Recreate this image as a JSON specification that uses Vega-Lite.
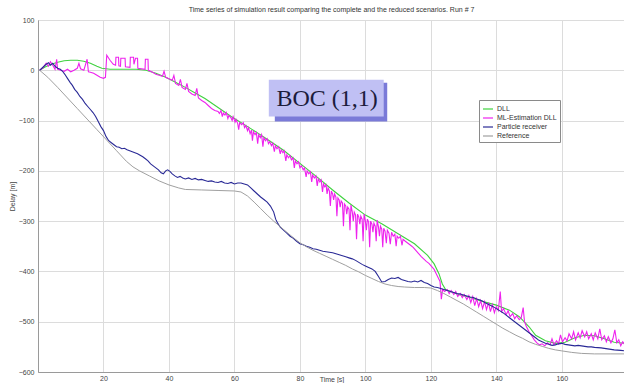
{
  "$schema": "https://vega.github.io/schema/vega-lite/v6.json",
  "width": 587,
  "height": 352,
  "autosize": {"type": "none"},
  "padding": {"left": 38, "top": 20, "right": 0, "bottom": 11},
  "background": "white",
  "title": {
    "text": "Time series of simulation result comparing the complete and the reduced scenarios. Run # 7",
    "font": "Liberation Sans",
    "fontSize": 7,
    "fontWeight": "normal",
    "color": "#333333",
    "anchor": "middle",
    "offset": 3
  },
  "config": {
    "view": {"stroke": "#a8a8a8", "strokeWidth": 1},
    "axis": {
      "labelFont": "Liberation Sans",
      "titleFont": "Liberation Sans",
      "labelFontSize": 7,
      "titleFontSize": 7,
      "titleFontWeight": "normal",
      "labelColor": "#444444",
      "titleColor": "#444444",
      "grid": true,
      "gridColor": "#dcdcdc",
      "gridWidth": 1,
      "domainColor": "#9a9a9a",
      "ticks": false
    }
  },
  "datasets": {
    "runs": [
      {"s": "DLL", "t": 0.5, "d": 0}, {"s": "DLL", "t": 2, "d": 6}, {"s": "DLL", "t": 4, "d": 12}, {"s": "DLL", "t": 6, "d": 16},
      {"s": "DLL", "t": 8, "d": 19}, {"s": "DLL", "t": 10, "d": 20}, {"s": "DLL", "t": 12, "d": 20}, {"s": "DLL", "t": 14, "d": 18},
      {"s": "DLL", "t": 16, "d": 14}, {"s": "DLL", "t": 18, "d": 8}, {"s": "DLL", "t": 19.5, "d": 4}, {"s": "DLL", "t": 22, "d": 2},
      {"s": "DLL", "t": 26, "d": 2}, {"s": "DLL", "t": 30, "d": 2}, {"s": "DLL", "t": 33, "d": 0}, {"s": "DLL", "t": 36, "d": -6},
      {"s": "DLL", "t": 39, "d": -14}, {"s": "DLL", "t": 42, "d": -24}, {"s": "DLL", "t": 45, "d": -34}, {"s": "DLL", "t": 48, "d": -45},
      {"s": "DLL", "t": 51, "d": -56}, {"s": "DLL", "t": 55, "d": -74}, {"s": "DLL", "t": 59, "d": -92}, {"s": "DLL", "t": 65, "d": -116},
      {"s": "DLL", "t": 70, "d": -137}, {"s": "DLL", "t": 75, "d": -159}, {"s": "DLL", "t": 80, "d": -185}, {"s": "DLL", "t": 85, "d": -211},
      {"s": "DLL", "t": 90, "d": -238}, {"s": "DLL", "t": 95, "d": -264}, {"s": "DLL", "t": 100, "d": -288}, {"s": "DLL", "t": 105, "d": -305},
      {"s": "DLL", "t": 110, "d": -325}, {"s": "DLL", "t": 115, "d": -345}, {"s": "DLL", "t": 119, "d": -368}, {"s": "DLL", "t": 121, "d": -385},
      {"s": "DLL", "t": 122.5, "d": -405}, {"s": "DLL", "t": 123.5, "d": -425}, {"s": "DLL", "t": 124.5, "d": -436}, {"s": "DLL", "t": 128, "d": -445},
      {"s": "DLL", "t": 132, "d": -452}, {"s": "DLL", "t": 136, "d": -460}, {"s": "DLL", "t": 140, "d": -467}, {"s": "DLL", "t": 144, "d": -477},
      {"s": "DLL", "t": 147, "d": -490}, {"s": "DLL", "t": 150, "d": -510}, {"s": "DLL", "t": 152, "d": -527}, {"s": "DLL", "t": 155, "d": -538},
      {"s": "DLL", "t": 158, "d": -543}, {"s": "DLL", "t": 161, "d": -541}, {"s": "DLL", "t": 164, "d": -532}, {"s": "DLL", "t": 167, "d": -527},
      {"s": "DLL", "t": 170, "d": -528}, {"s": "DLL", "t": 173, "d": -534}, {"s": "DLL", "t": 176, "d": -541}, {"s": "DLL", "t": 179.3, "d": -543},

      {"s": "ML-Estimation DLL", "t": 0.5, "d": 0}, {"s": "ML-Estimation DLL", "t": 1.5, "d": 5}, {"s": "ML-Estimation DLL", "t": 2.5, "d": 14},
      {"s": "ML-Estimation DLL", "t": 3.2, "d": 8}, {"s": "ML-Estimation DLL", "t": 3.8, "d": 17}, {"s": "ML-Estimation DLL", "t": 4.5, "d": 10},
      {"s": "ML-Estimation DLL", "t": 5.2, "d": 2}, {"s": "ML-Estimation DLL", "t": 5.7, "d": 22}, {"s": "ML-Estimation DLL", "t": 6.0, "d": 2},
      {"s": "ML-Estimation DLL", "t": 7, "d": 0}, {"s": "ML-Estimation DLL", "t": 8, "d": -2}, {"s": "ML-Estimation DLL", "t": 9, "d": 2},
      {"s": "ML-Estimation DLL", "t": 10, "d": -3}, {"s": "ML-Estimation DLL", "t": 11, "d": 0}, {"s": "ML-Estimation DLL", "t": 12, "d": 4},
      {"s": "ML-Estimation DLL", "t": 12.5, "d": 14}, {"s": "ML-Estimation DLL", "t": 13, "d": 3}, {"s": "ML-Estimation DLL", "t": 14, "d": 0},
      {"s": "ML-Estimation DLL", "t": 15, "d": 22}, {"s": "ML-Estimation DLL", "t": 15.4, "d": -3}, {"s": "ML-Estimation DLL", "t": 16, "d": -4},
      {"s": "ML-Estimation DLL", "t": 17, "d": -6}, {"s": "ML-Estimation DLL", "t": 18, "d": -10}, {"s": "ML-Estimation DLL", "t": 19, "d": -14},
      {"s": "ML-Estimation DLL", "t": 20, "d": -16}, {"s": "ML-Estimation DLL", "t": 20.6, "d": -14}, {"s": "ML-Estimation DLL", "t": 21, "d": 30},
      {"s": "ML-Estimation DLL", "t": 22, "d": 20}, {"s": "ML-Estimation DLL", "t": 23, "d": 12}, {"s": "ML-Estimation DLL", "t": 23.7, "d": 10},
      {"s": "ML-Estimation DLL", "t": 23.8, "d": 26}, {"s": "ML-Estimation DLL", "t": 24.6, "d": 26}, {"s": "ML-Estimation DLL", "t": 24.7, "d": 9},
      {"s": "ML-Estimation DLL", "t": 25.2, "d": 8}, {"s": "ML-Estimation DLL", "t": 25.3, "d": 24}, {"s": "ML-Estimation DLL", "t": 26.6, "d": 24},
      {"s": "ML-Estimation DLL", "t": 26.7, "d": 7}, {"s": "ML-Estimation DLL", "t": 28.1, "d": 6}, {"s": "ML-Estimation DLL", "t": 28.2, "d": 26},
      {"s": "ML-Estimation DLL", "t": 29.2, "d": 26}, {"s": "ML-Estimation DLL", "t": 29.3, "d": 12}, {"s": "ML-Estimation DLL", "t": 29.8, "d": 24},
      {"s": "ML-Estimation DLL", "t": 30.4, "d": 24}, {"s": "ML-Estimation DLL", "t": 30.5, "d": 4}, {"s": "ML-Estimation DLL", "t": 32.7, "d": 2},
      {"s": "ML-Estimation DLL", "t": 32.8, "d": 22}, {"s": "ML-Estimation DLL", "t": 33.6, "d": 22}, {"s": "ML-Estimation DLL", "t": 33.7, "d": 0},
      {"s": "ML-Estimation DLL", "t": 35, "d": -4}, {"s": "ML-Estimation DLL", "t": 36, "d": -8}, {"s": "ML-Estimation DLL", "t": 37, "d": -10},
      {"s": "ML-Estimation DLL", "t": 38, "d": -12}, {"s": "ML-Estimation DLL", "t": 38.5, "d": -2}, {"s": "ML-Estimation DLL", "t": 39, "d": -14},
      {"s": "ML-Estimation DLL", "t": 40, "d": -17}, {"s": "ML-Estimation DLL", "t": 41, "d": -20}, {"s": "ML-Estimation DLL", "t": 41.5, "d": -10},
      {"s": "ML-Estimation DLL", "t": 42, "d": -26}, {"s": "ML-Estimation DLL", "t": 43, "d": -30}, {"s": "ML-Estimation DLL", "t": 43.5, "d": -18},
      {"s": "ML-Estimation DLL", "t": 44, "d": -34}, {"s": "ML-Estimation DLL", "t": 45, "d": -38}, {"s": "ML-Estimation DLL", "t": 45.5, "d": -26},
      {"s": "ML-Estimation DLL", "t": 46, "d": -42}, {"s": "ML-Estimation DLL", "t": 47, "d": -47}, {"s": "ML-Estimation DLL", "t": 48, "d": -50},
      {"s": "ML-Estimation DLL", "t": 48.5, "d": -36}, {"s": "ML-Estimation DLL", "t": 49, "d": -55}, {"s": "ML-Estimation DLL", "t": 50, "d": -60},
      {"s": "ML-Estimation DLL", "t": 51, "d": -64}, {"s": "ML-Estimation DLL", "t": 52, "d": -70}, {"s": "ML-Estimation DLL", "t": 53, "d": -76},
      {"s": "ML-Estimation DLL", "t": 54, "d": -80}, {"s": "ML-Estimation DLL", "t": 55, "d": -82}, {"s": "ML-Estimation DLL", "t": 55.4, "d": -86},
      {"s": "ML-Estimation DLL", "t": 55.9, "d": -80}, {"s": "ML-Estimation DLL", "t": 56.3, "d": -92}, {"s": "ML-Estimation DLL", "t": 56.6, "d": -85},
      {"s": "ML-Estimation DLL", "t": 57.1, "d": -89}, {"s": "ML-Estimation DLL", "t": 57.5, "d": -84}, {"s": "ML-Estimation DLL", "t": 58, "d": -96},
      {"s": "ML-Estimation DLL", "t": 58.3, "d": -90}, {"s": "ML-Estimation DLL", "t": 58.9, "d": -94}, {"s": "ML-Estimation DLL", "t": 59.3, "d": -100},
      {"s": "ML-Estimation DLL", "t": 59.6, "d": -92}, {"s": "ML-Estimation DLL", "t": 60.2, "d": -103}, {"s": "ML-Estimation DLL", "t": 60.5, "d": -98},
      {"s": "ML-Estimation DLL", "t": 61, "d": -106}, {"s": "ML-Estimation DLL", "t": 61.3, "d": -118}, {"s": "ML-Estimation DLL", "t": 61.6, "d": -104},
      {"s": "ML-Estimation DLL", "t": 62.2, "d": -108}, {"s": "ML-Estimation DLL", "t": 62.7, "d": -104}, {"s": "ML-Estimation DLL", "t": 63.1, "d": -114},
      {"s": "ML-Estimation DLL", "t": 63.5, "d": -110}, {"s": "ML-Estimation DLL", "t": 64, "d": -120}, {"s": "ML-Estimation DLL", "t": 64.3, "d": -114},
      {"s": "ML-Estimation DLL", "t": 64.8, "d": -126}, {"s": "ML-Estimation DLL", "t": 65.2, "d": -119}, {"s": "ML-Estimation DLL", "t": 65.5, "d": -140},
      {"s": "ML-Estimation DLL", "t": 65.8, "d": -122}, {"s": "ML-Estimation DLL", "t": 66.3, "d": -128}, {"s": "ML-Estimation DLL", "t": 66.7, "d": -124},
      {"s": "ML-Estimation DLL", "t": 67.1, "d": -146}, {"s": "ML-Estimation DLL", "t": 67.4, "d": -128}, {"s": "ML-Estimation DLL", "t": 67.9, "d": -134},
      {"s": "ML-Estimation DLL", "t": 68.3, "d": -128}, {"s": "ML-Estimation DLL", "t": 68.7, "d": -152}, {"s": "ML-Estimation DLL", "t": 69, "d": -134},
      {"s": "ML-Estimation DLL", "t": 69.5, "d": -140}, {"s": "ML-Estimation DLL", "t": 70, "d": -136}, {"s": "ML-Estimation DLL", "t": 70.4, "d": -146},
      {"s": "ML-Estimation DLL", "t": 70.8, "d": -142}, {"s": "ML-Estimation DLL", "t": 71.3, "d": -150}, {"s": "ML-Estimation DLL", "t": 71.7, "d": -145},
      {"s": "ML-Estimation DLL", "t": 72.2, "d": -162}, {"s": "ML-Estimation DLL", "t": 72.5, "d": -150}, {"s": "ML-Estimation DLL", "t": 73, "d": -156},
      {"s": "ML-Estimation DLL", "t": 73.5, "d": -152}, {"s": "ML-Estimation DLL", "t": 74, "d": -166}, {"s": "ML-Estimation DLL", "t": 74.3, "d": -158},
      {"s": "ML-Estimation DLL", "t": 74.8, "d": -164}, {"s": "ML-Estimation DLL", "t": 75.2, "d": -160}, {"s": "ML-Estimation DLL", "t": 75.7, "d": -180},
      {"s": "ML-Estimation DLL", "t": 76, "d": -168}, {"s": "ML-Estimation DLL", "t": 76.5, "d": -174}, {"s": "ML-Estimation DLL", "t": 77, "d": -170},
      {"s": "ML-Estimation DLL", "t": 77.4, "d": -178}, {"s": "ML-Estimation DLL", "t": 77.9, "d": -174}, {"s": "ML-Estimation DLL", "t": 78.3, "d": -194},
      {"s": "ML-Estimation DLL", "t": 78.6, "d": -180}, {"s": "ML-Estimation DLL", "t": 79.1, "d": -186}, {"s": "ML-Estimation DLL", "t": 79.6, "d": -182},
      {"s": "ML-Estimation DLL", "t": 80, "d": -194}, {"s": "ML-Estimation DLL", "t": 80.5, "d": -190}, {"s": "ML-Estimation DLL", "t": 81, "d": -198},
      {"s": "ML-Estimation DLL", "t": 81.4, "d": -194}, {"s": "ML-Estimation DLL", "t": 81.9, "d": -212}, {"s": "ML-Estimation DLL", "t": 82.2, "d": -200},
      {"s": "ML-Estimation DLL", "t": 82.7, "d": -206}, {"s": "ML-Estimation DLL", "t": 83.2, "d": -202}, {"s": "ML-Estimation DLL", "t": 83.6, "d": -222},
      {"s": "ML-Estimation DLL", "t": 83.9, "d": -208}, {"s": "ML-Estimation DLL", "t": 84.4, "d": -214}, {"s": "ML-Estimation DLL", "t": 84.9, "d": -210},
      {"s": "ML-Estimation DLL", "t": 85.3, "d": -230}, {"s": "ML-Estimation DLL", "t": 85.6, "d": -216}, {"s": "ML-Estimation DLL", "t": 86.1, "d": -222},
      {"s": "ML-Estimation DLL", "t": 86.5, "d": -218}, {"s": "ML-Estimation DLL", "t": 86.9, "d": -242}, {"s": "ML-Estimation DLL", "t": 87.2, "d": -226},
      {"s": "ML-Estimation DLL", "t": 87.6, "d": -232}, {"s": "ML-Estimation DLL", "t": 88, "d": -228}, {"s": "ML-Estimation DLL", "t": 88.3, "d": -246},
      {"s": "ML-Estimation DLL", "t": 88.6, "d": -234}, {"s": "ML-Estimation DLL", "t": 89, "d": -240}, {"s": "ML-Estimation DLL", "t": 89.3, "d": -270},
      {"s": "ML-Estimation DLL", "t": 89.6, "d": -240}, {"s": "ML-Estimation DLL", "t": 90, "d": -246}, {"s": "ML-Estimation DLL", "t": 90.3, "d": -258},
      {"s": "ML-Estimation DLL", "t": 90.6, "d": -246}, {"s": "ML-Estimation DLL", "t": 91, "d": -252}, {"s": "ML-Estimation DLL", "t": 91.3, "d": -290},
      {"s": "ML-Estimation DLL", "t": 91.6, "d": -254}, {"s": "ML-Estimation DLL", "t": 92, "d": -258}, {"s": "ML-Estimation DLL", "t": 92.3, "d": -272},
      {"s": "ML-Estimation DLL", "t": 92.6, "d": -260}, {"s": "ML-Estimation DLL", "t": 93, "d": -264}, {"s": "ML-Estimation DLL", "t": 93.3, "d": -310},
      {"s": "ML-Estimation DLL", "t": 93.6, "d": -266}, {"s": "ML-Estimation DLL", "t": 94, "d": -270}, {"s": "ML-Estimation DLL", "t": 94.3, "d": -286},
      {"s": "ML-Estimation DLL", "t": 94.6, "d": -272}, {"s": "ML-Estimation DLL", "t": 95, "d": -276}, {"s": "ML-Estimation DLL", "t": 95.3, "d": -318},
      {"s": "ML-Estimation DLL", "t": 95.6, "d": -268}, {"s": "ML-Estimation DLL", "t": 96, "d": -282}, {"s": "ML-Estimation DLL", "t": 96.3, "d": -300},
      {"s": "ML-Estimation DLL", "t": 96.6, "d": -282}, {"s": "ML-Estimation DLL", "t": 97, "d": -288}, {"s": "ML-Estimation DLL", "t": 97.3, "d": -336},
      {"s": "ML-Estimation DLL", "t": 97.6, "d": -286}, {"s": "ML-Estimation DLL", "t": 98, "d": -292}, {"s": "ML-Estimation DLL", "t": 98.3, "d": -306},
      {"s": "ML-Estimation DLL", "t": 98.6, "d": -290}, {"s": "ML-Estimation DLL", "t": 99, "d": -296}, {"s": "ML-Estimation DLL", "t": 99.3, "d": -340},
      {"s": "ML-Estimation DLL", "t": 99.6, "d": -286}, {"s": "ML-Estimation DLL", "t": 100, "d": -300}, {"s": "ML-Estimation DLL", "t": 100.3, "d": -318},
      {"s": "ML-Estimation DLL", "t": 100.6, "d": -296}, {"s": "ML-Estimation DLL", "t": 101, "d": -302}, {"s": "ML-Estimation DLL", "t": 101.3, "d": -352},
      {"s": "ML-Estimation DLL", "t": 101.6, "d": -300}, {"s": "ML-Estimation DLL", "t": 102, "d": -306}, {"s": "ML-Estimation DLL", "t": 102.3, "d": -322},
      {"s": "ML-Estimation DLL", "t": 102.6, "d": -304}, {"s": "ML-Estimation DLL", "t": 103, "d": -310}, {"s": "ML-Estimation DLL", "t": 103.3, "d": -340},
      {"s": "ML-Estimation DLL", "t": 103.6, "d": -298}, {"s": "ML-Estimation DLL", "t": 104, "d": -312}, {"s": "ML-Estimation DLL", "t": 104.3, "d": -330},
      {"s": "ML-Estimation DLL", "t": 104.6, "d": -310}, {"s": "ML-Estimation DLL", "t": 105, "d": -316}, {"s": "ML-Estimation DLL", "t": 105.3, "d": -352},
      {"s": "ML-Estimation DLL", "t": 105.6, "d": -314}, {"s": "ML-Estimation DLL", "t": 106, "d": -320}, {"s": "ML-Estimation DLL", "t": 106.4, "d": -344},
      {"s": "ML-Estimation DLL", "t": 106.7, "d": -318}, {"s": "ML-Estimation DLL", "t": 107.2, "d": -324}, {"s": "ML-Estimation DLL", "t": 107.6, "d": -346},
      {"s": "ML-Estimation DLL", "t": 108, "d": -322}, {"s": "ML-Estimation DLL", "t": 108.5, "d": -330}, {"s": "ML-Estimation DLL", "t": 109, "d": -326},
      {"s": "ML-Estimation DLL", "t": 109.4, "d": -350}, {"s": "ML-Estimation DLL", "t": 109.7, "d": -330}, {"s": "ML-Estimation DLL", "t": 110.2, "d": -334},
      {"s": "ML-Estimation DLL", "t": 110.7, "d": -330}, {"s": "ML-Estimation DLL", "t": 111.2, "d": -348}, {"s": "ML-Estimation DLL", "t": 111.5, "d": -336},
      {"s": "ML-Estimation DLL", "t": 112.2, "d": -340}, {"s": "ML-Estimation DLL", "t": 113, "d": -344}, {"s": "ML-Estimation DLL", "t": 113.8, "d": -348},
      {"s": "ML-Estimation DLL", "t": 114.6, "d": -352}, {"s": "ML-Estimation DLL", "t": 115.4, "d": -358}, {"s": "ML-Estimation DLL", "t": 116.2, "d": -364},
      {"s": "ML-Estimation DLL", "t": 117, "d": -370}, {"s": "ML-Estimation DLL", "t": 117.8, "d": -375}, {"s": "ML-Estimation DLL", "t": 118.6, "d": -380},
      {"s": "ML-Estimation DLL", "t": 119.4, "d": -384}, {"s": "ML-Estimation DLL", "t": 120.2, "d": -390}, {"s": "ML-Estimation DLL", "t": 121, "d": -396},
      {"s": "ML-Estimation DLL", "t": 121.6, "d": -404}, {"s": "ML-Estimation DLL", "t": 122.2, "d": -412}, {"s": "ML-Estimation DLL", "t": 122.8, "d": -420},
      {"s": "ML-Estimation DLL", "t": 123.2, "d": -455}, {"s": "ML-Estimation DLL", "t": 123.6, "d": -436}, {"s": "ML-Estimation DLL", "t": 124.2, "d": -440},
      {"s": "ML-Estimation DLL", "t": 125, "d": -436}, {"s": "ML-Estimation DLL", "t": 125.6, "d": -444}, {"s": "ML-Estimation DLL", "t": 126.2, "d": -438},
      {"s": "ML-Estimation DLL", "t": 127, "d": -446}, {"s": "ML-Estimation DLL", "t": 127.6, "d": -440}, {"s": "ML-Estimation DLL", "t": 128.2, "d": -450},
      {"s": "ML-Estimation DLL", "t": 129, "d": -444}, {"s": "ML-Estimation DLL", "t": 129.6, "d": -452}, {"s": "ML-Estimation DLL", "t": 130.2, "d": -446},
      {"s": "ML-Estimation DLL", "t": 131, "d": -456}, {"s": "ML-Estimation DLL", "t": 131.6, "d": -448}, {"s": "ML-Estimation DLL", "t": 132.2, "d": -462},
      {"s": "ML-Estimation DLL", "t": 132.8, "d": -450}, {"s": "ML-Estimation DLL", "t": 133.4, "d": -468}, {"s": "ML-Estimation DLL", "t": 134, "d": -454},
      {"s": "ML-Estimation DLL", "t": 134.6, "d": -470}, {"s": "ML-Estimation DLL", "t": 135.2, "d": -458}, {"s": "ML-Estimation DLL", "t": 135.8, "d": -474},
      {"s": "ML-Estimation DLL", "t": 136.4, "d": -460}, {"s": "ML-Estimation DLL", "t": 137, "d": -476}, {"s": "ML-Estimation DLL", "t": 137.6, "d": -462},
      {"s": "ML-Estimation DLL", "t": 138.2, "d": -480}, {"s": "ML-Estimation DLL", "t": 138.8, "d": -466}, {"s": "ML-Estimation DLL", "t": 139.4, "d": -482},
      {"s": "ML-Estimation DLL", "t": 140, "d": -470}, {"s": "ML-Estimation DLL", "t": 140.6, "d": -478}, {"s": "ML-Estimation DLL", "t": 141.2, "d": -440},
      {"s": "ML-Estimation DLL", "t": 141.6, "d": -480}, {"s": "ML-Estimation DLL", "t": 142.2, "d": -474}, {"s": "ML-Estimation DLL", "t": 143, "d": -486},
      {"s": "ML-Estimation DLL", "t": 143.6, "d": -478}, {"s": "ML-Estimation DLL", "t": 144.2, "d": -490}, {"s": "ML-Estimation DLL", "t": 145, "d": -484},
      {"s": "ML-Estimation DLL", "t": 145.6, "d": -494}, {"s": "ML-Estimation DLL", "t": 146.2, "d": -488}, {"s": "ML-Estimation DLL", "t": 147, "d": -496},
      {"s": "ML-Estimation DLL", "t": 147.6, "d": -492}, {"s": "ML-Estimation DLL", "t": 148.2, "d": -472}, {"s": "ML-Estimation DLL", "t": 148.6, "d": -500},
      {"s": "ML-Estimation DLL", "t": 149.2, "d": -510}, {"s": "ML-Estimation DLL", "t": 150, "d": -520}, {"s": "ML-Estimation DLL", "t": 150.8, "d": -528},
      {"s": "ML-Estimation DLL", "t": 151.6, "d": -536}, {"s": "ML-Estimation DLL", "t": 152.4, "d": -542}, {"s": "ML-Estimation DLL", "t": 153.2, "d": -546},
      {"s": "ML-Estimation DLL", "t": 154, "d": -544}, {"s": "ML-Estimation DLL", "t": 154.8, "d": -548}, {"s": "ML-Estimation DLL", "t": 155.6, "d": -542},
      {"s": "ML-Estimation DLL", "t": 156.4, "d": -546}, {"s": "ML-Estimation DLL", "t": 157, "d": -534}, {"s": "ML-Estimation DLL", "t": 157.6, "d": -546},
      {"s": "ML-Estimation DLL", "t": 158.4, "d": -538}, {"s": "ML-Estimation DLL", "t": 159, "d": -544}, {"s": "ML-Estimation DLL", "t": 159.6, "d": -526},
      {"s": "ML-Estimation DLL", "t": 160.2, "d": -540}, {"s": "ML-Estimation DLL", "t": 161, "d": -532}, {"s": "ML-Estimation DLL", "t": 161.6, "d": -538},
      {"s": "ML-Estimation DLL", "t": 162.2, "d": -524}, {"s": "ML-Estimation DLL", "t": 163, "d": -534}, {"s": "ML-Estimation DLL", "t": 163.6, "d": -520},
      {"s": "ML-Estimation DLL", "t": 164.2, "d": -536}, {"s": "ML-Estimation DLL", "t": 165, "d": -522}, {"s": "ML-Estimation DLL", "t": 165.6, "d": -532},
      {"s": "ML-Estimation DLL", "t": 166.2, "d": -518}, {"s": "ML-Estimation DLL", "t": 167, "d": -530}, {"s": "ML-Estimation DLL", "t": 167.6, "d": -520},
      {"s": "ML-Estimation DLL", "t": 168.2, "d": -534}, {"s": "ML-Estimation DLL", "t": 169, "d": -524}, {"s": "ML-Estimation DLL", "t": 169.6, "d": -536},
      {"s": "ML-Estimation DLL", "t": 170.2, "d": -522}, {"s": "ML-Estimation DLL", "t": 171, "d": -534}, {"s": "ML-Estimation DLL", "t": 171.6, "d": -514},
      {"s": "ML-Estimation DLL", "t": 172.2, "d": -536}, {"s": "ML-Estimation DLL", "t": 173, "d": -528}, {"s": "ML-Estimation DLL", "t": 173.6, "d": -540},
      {"s": "ML-Estimation DLL", "t": 174.2, "d": -530}, {"s": "ML-Estimation DLL", "t": 175, "d": -542}, {"s": "ML-Estimation DLL", "t": 175.6, "d": -534},
      {"s": "ML-Estimation DLL", "t": 176.2, "d": -516}, {"s": "ML-Estimation DLL", "t": 176.8, "d": -542}, {"s": "ML-Estimation DLL", "t": 177.4, "d": -536},
      {"s": "ML-Estimation DLL", "t": 178, "d": -548}, {"s": "ML-Estimation DLL", "t": 178.6, "d": -540}, {"s": "ML-Estimation DLL", "t": 179.3, "d": -546},

      {"s": "Particle receiver", "t": 0.5, "d": 0}, {"s": "Particle receiver", "t": 1.5, "d": 6}, {"s": "Particle receiver", "t": 2.5, "d": 12},
      {"s": "Particle receiver", "t": 3.2, "d": 15}, {"s": "Particle receiver", "t": 3.8, "d": 10}, {"s": "Particle receiver", "t": 4.5, "d": 14},
      {"s": "Particle receiver", "t": 5.2, "d": 8}, {"s": "Particle receiver", "t": 6, "d": 4}, {"s": "Particle receiver", "t": 6.8, "d": 2},
      {"s": "Particle receiver", "t": 7.5, "d": -2}, {"s": "Particle receiver", "t": 8.2, "d": -8}, {"s": "Particle receiver", "t": 9, "d": -16},
      {"s": "Particle receiver", "t": 9.8, "d": -24}, {"s": "Particle receiver", "t": 10.5, "d": -30}, {"s": "Particle receiver", "t": 11.2, "d": -38},
      {"s": "Particle receiver", "t": 12, "d": -44}, {"s": "Particle receiver", "t": 12.8, "d": -52}, {"s": "Particle receiver", "t": 13.6, "d": -58},
      {"s": "Particle receiver", "t": 14.4, "d": -66}, {"s": "Particle receiver", "t": 15.2, "d": -72}, {"s": "Particle receiver", "t": 16, "d": -78},
      {"s": "Particle receiver", "t": 16.8, "d": -84}, {"s": "Particle receiver", "t": 17.6, "d": -92}, {"s": "Particle receiver", "t": 18.4, "d": -102},
      {"s": "Particle receiver", "t": 19.2, "d": -112}, {"s": "Particle receiver", "t": 20, "d": -120}, {"s": "Particle receiver", "t": 20.8, "d": -132},
      {"s": "Particle receiver", "t": 21.6, "d": -140}, {"s": "Particle receiver", "t": 22.4, "d": -144}, {"s": "Particle receiver", "t": 23.2, "d": -148},
      {"s": "Particle receiver", "t": 24, "d": -152}, {"s": "Particle receiver", "t": 24.8, "d": -153}, {"s": "Particle receiver", "t": 25.6, "d": -156},
      {"s": "Particle receiver", "t": 26.4, "d": -155}, {"s": "Particle receiver", "t": 27.2, "d": -158}, {"s": "Particle receiver", "t": 28, "d": -160},
      {"s": "Particle receiver", "t": 28.8, "d": -162}, {"s": "Particle receiver", "t": 29.6, "d": -164}, {"s": "Particle receiver", "t": 30.4, "d": -166},
      {"s": "Particle receiver", "t": 31.2, "d": -169}, {"s": "Particle receiver", "t": 32, "d": -172}, {"s": "Particle receiver", "t": 32.8, "d": -176},
      {"s": "Particle receiver", "t": 33.6, "d": -180}, {"s": "Particle receiver", "t": 34.4, "d": -186}, {"s": "Particle receiver", "t": 35.2, "d": -190},
      {"s": "Particle receiver", "t": 36, "d": -194}, {"s": "Particle receiver", "t": 36.8, "d": -198}, {"s": "Particle receiver", "t": 37.6, "d": -204},
      {"s": "Particle receiver", "t": 38.3, "d": -206}, {"s": "Particle receiver", "t": 39, "d": -200}, {"s": "Particle receiver", "t": 39.6, "d": -198},
      {"s": "Particle receiver", "t": 40.3, "d": -201}, {"s": "Particle receiver", "t": 41, "d": -206}, {"s": "Particle receiver", "t": 41.8, "d": -210},
      {"s": "Particle receiver", "t": 42.6, "d": -213}, {"s": "Particle receiver", "t": 43.4, "d": -211}, {"s": "Particle receiver", "t": 44.2, "d": -214},
      {"s": "Particle receiver", "t": 45, "d": -216}, {"s": "Particle receiver", "t": 46, "d": -214}, {"s": "Particle receiver", "t": 47, "d": -217},
      {"s": "Particle receiver", "t": 48, "d": -215}, {"s": "Particle receiver", "t": 49, "d": -218}, {"s": "Particle receiver", "t": 50, "d": -217},
      {"s": "Particle receiver", "t": 51, "d": -219}, {"s": "Particle receiver", "t": 52, "d": -221}, {"s": "Particle receiver", "t": 53, "d": -220},
      {"s": "Particle receiver", "t": 54, "d": -222}, {"s": "Particle receiver", "t": 55, "d": -223}, {"s": "Particle receiver", "t": 56, "d": -221},
      {"s": "Particle receiver", "t": 57, "d": -224}, {"s": "Particle receiver", "t": 58, "d": -225}, {"s": "Particle receiver", "t": 59, "d": -223},
      {"s": "Particle receiver", "t": 60, "d": -226}, {"s": "Particle receiver", "t": 61, "d": -224}, {"s": "Particle receiver", "t": 62, "d": -224},
      {"s": "Particle receiver", "t": 63, "d": -226}, {"s": "Particle receiver", "t": 64, "d": -228}, {"s": "Particle receiver", "t": 65, "d": -234},
      {"s": "Particle receiver", "t": 66, "d": -240}, {"s": "Particle receiver", "t": 67, "d": -246}, {"s": "Particle receiver", "t": 68, "d": -252},
      {"s": "Particle receiver", "t": 69, "d": -257}, {"s": "Particle receiver", "t": 70, "d": -262}, {"s": "Particle receiver", "t": 71, "d": -270},
      {"s": "Particle receiver", "t": 72, "d": -282}, {"s": "Particle receiver", "t": 72.6, "d": -296}, {"s": "Particle receiver", "t": 73.2, "d": -304},
      {"s": "Particle receiver", "t": 74, "d": -312}, {"s": "Particle receiver", "t": 75, "d": -318}, {"s": "Particle receiver", "t": 76, "d": -324},
      {"s": "Particle receiver", "t": 77, "d": -330}, {"s": "Particle receiver", "t": 78, "d": -334}, {"s": "Particle receiver", "t": 79, "d": -340},
      {"s": "Particle receiver", "t": 80, "d": -345}, {"s": "Particle receiver", "t": 81, "d": -347}, {"s": "Particle receiver", "t": 82, "d": -350},
      {"s": "Particle receiver", "t": 83, "d": -352}, {"s": "Particle receiver", "t": 84, "d": -355}, {"s": "Particle receiver", "t": 85, "d": -356},
      {"s": "Particle receiver", "t": 86, "d": -358}, {"s": "Particle receiver", "t": 87, "d": -360}, {"s": "Particle receiver", "t": 88, "d": -361},
      {"s": "Particle receiver", "t": 89, "d": -362}, {"s": "Particle receiver", "t": 90, "d": -363}, {"s": "Particle receiver", "t": 91, "d": -365},
      {"s": "Particle receiver", "t": 92, "d": -367}, {"s": "Particle receiver", "t": 93, "d": -369}, {"s": "Particle receiver", "t": 94, "d": -371},
      {"s": "Particle receiver", "t": 95, "d": -373}, {"s": "Particle receiver", "t": 96, "d": -375}, {"s": "Particle receiver", "t": 97, "d": -378},
      {"s": "Particle receiver", "t": 98, "d": -382}, {"s": "Particle receiver", "t": 99, "d": -386}, {"s": "Particle receiver", "t": 100, "d": -389},
      {"s": "Particle receiver", "t": 101, "d": -392}, {"s": "Particle receiver", "t": 102, "d": -395}, {"s": "Particle receiver", "t": 103, "d": -400},
      {"s": "Particle receiver", "t": 104, "d": -410}, {"s": "Particle receiver", "t": 105, "d": -421}, {"s": "Particle receiver", "t": 106, "d": -420},
      {"s": "Particle receiver", "t": 107, "d": -416}, {"s": "Particle receiver", "t": 108, "d": -413}, {"s": "Particle receiver", "t": 109, "d": -414},
      {"s": "Particle receiver", "t": 110, "d": -412}, {"s": "Particle receiver", "t": 111, "d": -416}, {"s": "Particle receiver", "t": 112, "d": -418},
      {"s": "Particle receiver", "t": 113, "d": -420}, {"s": "Particle receiver", "t": 114, "d": -421}, {"s": "Particle receiver", "t": 115, "d": -419},
      {"s": "Particle receiver", "t": 116, "d": -421}, {"s": "Particle receiver", "t": 117, "d": -418}, {"s": "Particle receiver", "t": 118, "d": -422},
      {"s": "Particle receiver", "t": 119, "d": -424}, {"s": "Particle receiver", "t": 120, "d": -428}, {"s": "Particle receiver", "t": 121, "d": -431},
      {"s": "Particle receiver", "t": 122, "d": -432}, {"s": "Particle receiver", "t": 123, "d": -434}, {"s": "Particle receiver", "t": 124, "d": -436},
      {"s": "Particle receiver", "t": 125, "d": -438}, {"s": "Particle receiver", "t": 126, "d": -440}, {"s": "Particle receiver", "t": 127, "d": -442},
      {"s": "Particle receiver", "t": 128, "d": -444}, {"s": "Particle receiver", "t": 129, "d": -445}, {"s": "Particle receiver", "t": 130, "d": -447},
      {"s": "Particle receiver", "t": 131, "d": -449}, {"s": "Particle receiver", "t": 132, "d": -451}, {"s": "Particle receiver", "t": 133, "d": -452},
      {"s": "Particle receiver", "t": 134, "d": -455}, {"s": "Particle receiver", "t": 135, "d": -457}, {"s": "Particle receiver", "t": 136, "d": -460},
      {"s": "Particle receiver", "t": 137, "d": -464}, {"s": "Particle receiver", "t": 138, "d": -467}, {"s": "Particle receiver", "t": 139, "d": -470},
      {"s": "Particle receiver", "t": 140, "d": -474}, {"s": "Particle receiver", "t": 141, "d": -478}, {"s": "Particle receiver", "t": 142, "d": -482},
      {"s": "Particle receiver", "t": 143, "d": -487}, {"s": "Particle receiver", "t": 144, "d": -492}, {"s": "Particle receiver", "t": 145, "d": -497},
      {"s": "Particle receiver", "t": 146, "d": -502}, {"s": "Particle receiver", "t": 147, "d": -507}, {"s": "Particle receiver", "t": 148, "d": -512},
      {"s": "Particle receiver", "t": 149, "d": -517}, {"s": "Particle receiver", "t": 150, "d": -522}, {"s": "Particle receiver", "t": 151, "d": -527},
      {"s": "Particle receiver", "t": 152, "d": -532}, {"s": "Particle receiver", "t": 153, "d": -537}, {"s": "Particle receiver", "t": 154, "d": -540},
      {"s": "Particle receiver", "t": 155, "d": -543}, {"s": "Particle receiver", "t": 156, "d": -545}, {"s": "Particle receiver", "t": 157, "d": -547},
      {"s": "Particle receiver", "t": 158, "d": -546}, {"s": "Particle receiver", "t": 159, "d": -544}, {"s": "Particle receiver", "t": 160, "d": -543},
      {"s": "Particle receiver", "t": 161, "d": -545}, {"s": "Particle receiver", "t": 162, "d": -546}, {"s": "Particle receiver", "t": 163, "d": -547},
      {"s": "Particle receiver", "t": 164, "d": -548}, {"s": "Particle receiver", "t": 165, "d": -547}, {"s": "Particle receiver", "t": 166, "d": -548},
      {"s": "Particle receiver", "t": 167, "d": -549}, {"s": "Particle receiver", "t": 168, "d": -550}, {"s": "Particle receiver", "t": 169, "d": -550},
      {"s": "Particle receiver", "t": 170, "d": -551}, {"s": "Particle receiver", "t": 172, "d": -552}, {"s": "Particle receiver", "t": 174, "d": -554},
      {"s": "Particle receiver", "t": 176, "d": -556}, {"s": "Particle receiver", "t": 178, "d": -557}, {"s": "Particle receiver", "t": 179.3, "d": -558},

      {"s": "Reference", "t": 0.5, "d": 0}, {"s": "Reference", "t": 3, "d": -14}, {"s": "Reference", "t": 6, "d": -34}, {"s": "Reference", "t": 9, "d": -55},
      {"s": "Reference", "t": 12, "d": -76}, {"s": "Reference", "t": 15, "d": -97}, {"s": "Reference", "t": 18, "d": -118}, {"s": "Reference", "t": 21, "d": -139},
      {"s": "Reference", "t": 24, "d": -160}, {"s": "Reference", "t": 27, "d": -181}, {"s": "Reference", "t": 29, "d": -192}, {"s": "Reference", "t": 31, "d": -200},
      {"s": "Reference", "t": 34, "d": -210}, {"s": "Reference", "t": 37, "d": -220}, {"s": "Reference", "t": 40, "d": -228}, {"s": "Reference", "t": 43, "d": -234},
      {"s": "Reference", "t": 45, "d": -237}, {"s": "Reference", "t": 50, "d": -238}, {"s": "Reference", "t": 55, "d": -239}, {"s": "Reference", "t": 60, "d": -240},
      {"s": "Reference", "t": 62, "d": -242}, {"s": "Reference", "t": 64, "d": -250}, {"s": "Reference", "t": 66, "d": -262}, {"s": "Reference", "t": 68, "d": -275},
      {"s": "Reference", "t": 70, "d": -288}, {"s": "Reference", "t": 72, "d": -300}, {"s": "Reference", "t": 74, "d": -311}, {"s": "Reference", "t": 76, "d": -322},
      {"s": "Reference", "t": 78, "d": -333}, {"s": "Reference", "t": 80, "d": -343}, {"s": "Reference", "t": 82, "d": -351}, {"s": "Reference", "t": 84, "d": -358},
      {"s": "Reference", "t": 86, "d": -364}, {"s": "Reference", "t": 88, "d": -370}, {"s": "Reference", "t": 90, "d": -376}, {"s": "Reference", "t": 92, "d": -382},
      {"s": "Reference", "t": 94, "d": -388}, {"s": "Reference", "t": 96, "d": -395}, {"s": "Reference", "t": 98, "d": -401}, {"s": "Reference", "t": 100, "d": -408},
      {"s": "Reference", "t": 102, "d": -414}, {"s": "Reference", "t": 104, "d": -420}, {"s": "Reference", "t": 106, "d": -425}, {"s": "Reference", "t": 108, "d": -428},
      {"s": "Reference", "t": 110, "d": -430}, {"s": "Reference", "t": 112, "d": -431}, {"s": "Reference", "t": 115, "d": -432}, {"s": "Reference", "t": 118, "d": -432},
      {"s": "Reference", "t": 120, "d": -433}, {"s": "Reference", "t": 122, "d": -438}, {"s": "Reference", "t": 124, "d": -444}, {"s": "Reference", "t": 126, "d": -451},
      {"s": "Reference", "t": 128, "d": -458}, {"s": "Reference", "t": 130, "d": -465}, {"s": "Reference", "t": 132, "d": -473}, {"s": "Reference", "t": 134, "d": -481},
      {"s": "Reference", "t": 136, "d": -489}, {"s": "Reference", "t": 138, "d": -497}, {"s": "Reference", "t": 140, "d": -505}, {"s": "Reference", "t": 142, "d": -513},
      {"s": "Reference", "t": 144, "d": -520}, {"s": "Reference", "t": 146, "d": -527}, {"s": "Reference", "t": 148, "d": -533}, {"s": "Reference", "t": 150, "d": -540},
      {"s": "Reference", "t": 152, "d": -545}, {"s": "Reference", "t": 154, "d": -549}, {"s": "Reference", "t": 156, "d": -553}, {"s": "Reference", "t": 158, "d": -556},
      {"s": "Reference", "t": 160, "d": -558}, {"s": "Reference", "t": 163, "d": -561}, {"s": "Reference", "t": 166, "d": -563}, {"s": "Reference", "t": 170, "d": -564},
      {"s": "Reference", "t": 175, "d": -564}, {"s": "Reference", "t": 179.3, "d": -564}
    ],
    "note": [
      {"label": "BOC (1,1)", "t0": 70.5, "t1": 105.6, "d0": -19, "d1": -92, "tc": 88.3, "dc": -57}
    ]
  },
  "encoding": {
    "x": {
      "field": "t",
      "type": "quantitative",
      "scale": {"domain": [0, 179.3], "nice": false, "zero": false},
      "axis": {
        "values": [20, 40, 60, 80, 100, 120, 140, 160],
        "labelPadding": 2,
        "title": "Time [s]",
        "titleY": 3,
        "titleBaseline": "top"
      }
    },
    "y": {
      "field": "d",
      "type": "quantitative",
      "scale": {"domain": [-600, 100], "nice": false, "zero": false},
      "axis": {
        "values": [-600, -500, -400, -300, -200, -100, 0, 100],
        "labelPadding": 4,
        "title": "Delay [m]",
        "titlePadding": 3
      }
    }
  },
  "layer": [
    {
      "data": {"name": "runs"},
      "encoding": {
        "color": {
          "field": "s",
          "type": "nominal",
          "scale": {
            "domain": ["DLL", "ML-Estimation DLL", "Particle receiver", "Reference"],
            "range": ["#3fd23f", "#ee22ee", "#2a2a96", "#a0a0a0"]
          },
          "legend": {
            "orient": "none",
            "legendX": 441,
            "legendY": 80,
            "title": null,
            "direction": "vertical",
            "symbolType": "stroke",
            "symbolSize": 100,
            "symbolStrokeWidth": 1.2,
            "labelFont": "Liberation Sans",
            "labelFontSize": 7,
            "labelColor": "#333333",
            "labelOffset": 3,
            "rowPadding": 0,
            "padding": 3,
            "strokeColor": "#8a8a8a",
            "fillColor": "#ffffff"
          }
        }
      },
      "layer": [
        {"transform": [{"filter": "datum.s === 'DLL'"}], "mark": {"type": "line", "strokeWidth": 1.1, "clip": true}},
        {"transform": [{"filter": "datum.s === 'ML-Estimation DLL'"}], "mark": {"type": "line", "strokeWidth": 1.1, "clip": true}},
        {"transform": [{"filter": "datum.s === 'Particle receiver'"}], "mark": {"type": "line", "strokeWidth": 1.1, "clip": true}},
        {"transform": [{"filter": "datum.s === 'Reference'"}], "mark": {"type": "line", "strokeWidth": 1, "clip": true}}
      ]
    },
    {
      "data": {"name": "note"},
      "layer": [
        {
          "mark": {"type": "rect", "fill": "#7a7ad8", "xOffset": 6, "x2Offset": 3.5, "yOffset": 3, "y2Offset": 5},
          "encoding": {
            "x": {"field": "t0", "type": "quantitative"},
            "x2": {"field": "t1"},
            "y": {"field": "d0", "type": "quantitative"},
            "y2": {"field": "d1"}
          }
        },
        {
          "mark": {"type": "rect", "fill": "#c0c0f4"},
          "encoding": {
            "x": {"field": "t0", "type": "quantitative"},
            "x2": {"field": "t1"},
            "y": {"field": "d0", "type": "quantitative"},
            "y2": {"field": "d1"}
          }
        },
        {
          "mark": {"type": "text", "font": "Liberation Serif", "fontSize": 24, "color": "#1c1c3c", "align": "center", "baseline": "middle"},
          "encoding": {
            "x": {"field": "tc", "type": "quantitative"},
            "y": {"field": "dc", "type": "quantitative"},
            "text": {"field": "label"}
          }
        }
      ]
    }
  ]
}
